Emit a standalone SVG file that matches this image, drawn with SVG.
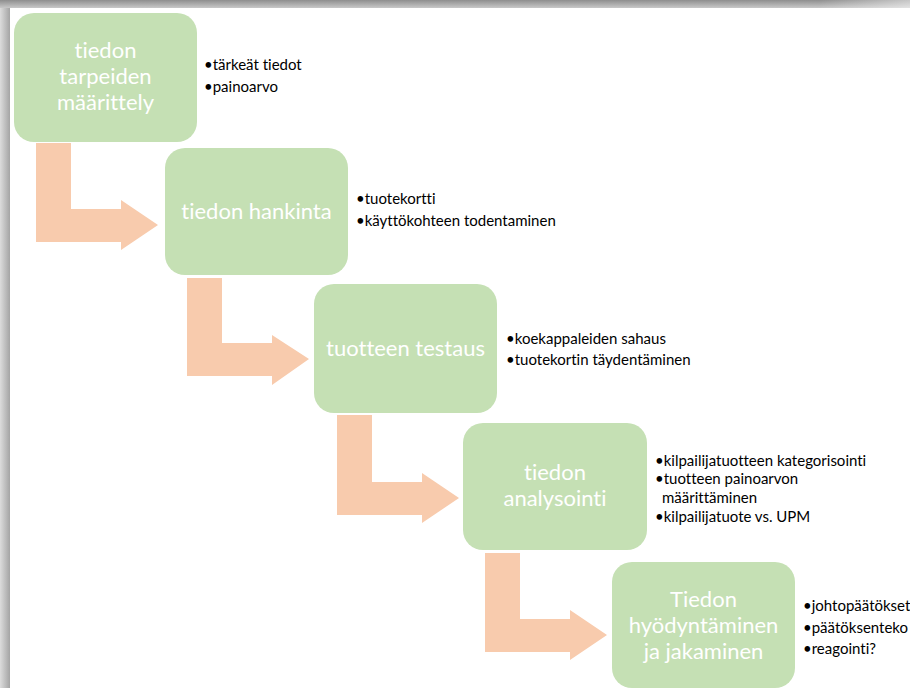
<svg xmlns="http://www.w3.org/2000/svg" width="910" height="688" viewBox="0 0 910 688">
<defs>
<linearGradient id="gTop" x1="0" y1="0" x2="0" y2="1"><stop offset="0" stop-color="#8e8e8e"/><stop offset="1" stop-color="#c8c8c8"/></linearGradient>
<linearGradient id="gTopFade" x1="0" y1="0" x2="1" y2="0"><stop offset="0.9" stop-color="#fff" stop-opacity="0"/><stop offset="1" stop-color="#fff" stop-opacity="0.5"/></linearGradient>
<linearGradient id="gLeft" x1="0" y1="0" x2="1" y2="0"><stop offset="0" stop-color="#dcdcdc"/><stop offset="1" stop-color="#a4a4a4"/></linearGradient>
<style>
.box{fill:#C5E0B4}
.arr{fill:#F8CBAD}
.t{font-family:Lato,"Open Sans",sans-serif;font-size:22px;fill:#fff;text-anchor:middle;font-variant-ligatures:none}
.b{font-family:Lato,"Open Sans",sans-serif;font-size:15px;fill:#000;font-variant-ligatures:none}
</style>
</defs>
<rect width="910" height="688" fill="#fff"/>
<rect x="0" y="0" width="10" height="688" fill="url(#gLeft)"/>
<rect x="0" y="0" width="910" height="8" fill="url(#gTop)"/>
<rect x="0" y="0" width="910" height="8" fill="url(#gTopFade)"/>

<g id="connectors">
<path class="arr" d="M36,143 H71 V209 H121 V200 L158,225 L121,250 V242 H36 Z"/>
<path class="arr" d="M187,278 H222 V343 H272 V335 L309,359 L272,385 V376 H187 Z"/>
<path class="arr" d="M337,415 H372 V482 H422 V473 L459,498 L422,523 V515 H337 Z"/>
<path class="arr" d="M485,553 H520 V619 H570 V610 L607,635 L570,660 V652 H485 Z"/>
</g>

<g id="n1">
<rect class="box" x="14" y="13" width="183" height="129" rx="20"/>
<text class="t" x="105.5" y="58">tiedon</text>
<text class="t" x="105.5" y="84">tarpeiden</text>
<text class="t" x="105.5" y="110">määrittely</text>
<text class="b" x="204" y="70">•tärkeät tiedot</text>
<text class="b" x="204" y="92">•painoarvo</text>
</g>

<g id="n2">
<rect class="box" x="165" y="148" width="183" height="127" rx="20"/>
<text class="t" x="256.5" y="219">tiedon hankinta</text>
<text class="b" x="356" y="204">•tuotekortti</text>
<text class="b" x="356" y="226">•käyttökohteen todentaminen</text>
</g>

<g id="n3">
<rect class="box" x="314" y="284" width="183" height="129" rx="20"/>
<text class="t" x="405.5" y="356">tuotteen testaus</text>
<text class="b" x="506" y="344">•koekappaleiden sahaus</text>
<text class="b" x="506" y="365">•tuotekortin täydentäminen</text>
</g>

<g id="n4">
<rect class="box" x="463" y="423" width="184" height="127" rx="20"/>
<text class="t" x="555" y="480">tiedon</text>
<text class="t" x="555" y="506">analysointi</text>
<text class="b" x="655" y="466">•kilpailijatuotteen kategorisointi</text>
<text class="b" x="655" y="484">•tuotteen painoarvon</text>
<text class="b" x="662" y="503">määrittäminen</text>
<text class="b" x="655" y="522">•kilpailijatuote vs. UPM</text>
</g>

<g id="n5">
<rect class="box" x="612" y="562" width="183" height="126" rx="20"/>
<text class="t" x="703.5" y="607">Tiedon</text>
<text class="t" x="703.5" y="633">hyödyntäminen</text>
<text class="t" x="703.5" y="659">ja jakaminen</text>
<text class="b" x="803" y="611">•johtopäätökset</text>
<text class="b" x="803" y="633">•päätöksenteko</text>
<text class="b" x="803" y="654">•reagointi?</text>
</g>
</svg>
